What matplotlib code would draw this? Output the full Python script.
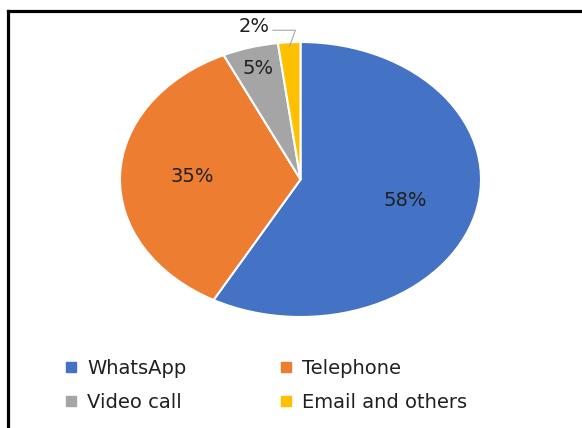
import numpy as np
import matplotlib
matplotlib.use("Agg")
import matplotlib.pyplot as plt
from matplotlib.lines import Line2D

categories = ["WhatsApp", "Telephone", "Video call", "Email and others"]
values = [58, 35, 5, 2]
colors = ["#4472C4", "#ED7D31", "#A5A5A5", "#FFC000"]
label_dist = [0.6, 0.6, 0.84, None]

W, H = 582, 428
fig = plt.figure(figsize=(W / 100, H / 100), dpi=100)
plt.rcParams['font.family'] = ['DejaVu Sans']

# pie axes (ellipse, stretched like the reference)
l, r, t, b = 120, 481, 42, 317
ax = fig.add_axes([l / W, 1 - b / H, (r - l) / W, (b - t) / H])
wedges, _ = ax.pie(values, colors=colors, startangle=90, counterclock=False,
                   wedgeprops=dict(edgecolor="white", linewidth=1.5))
ax.set_aspect("auto")
ax.set_xlim(-1, 1)
ax.set_ylim(-1, 1)
ax.axis("off")

txtcol = "#202020"
for w, v, d in zip(wedges, values, label_dist):
    mid = np.deg2rad((w.theta1 + w.theta2) / 2)
    if d is not None:
        ax.text(d * np.cos(mid), d * np.sin(mid), f"{v}%", ha="center", va="center",
                fontsize=14, color=txtcol)
    else:
        ax.annotate(f"{v}%", xy=(0.97 * np.cos(mid), 0.97 * np.sin(mid)),
                    xytext=(-0.255, 1.113), ha="center", va="center",
                    fontsize=14, color=txtcol, annotation_clip=False,
                    arrowprops=dict(arrowstyle="-", color="#A6A6A6", lw=0.8,
                                    shrinkA=0, shrinkB=0,
                                    connectionstyle="angle,angleA=0,angleB=70,rad=0",
                                    relpos=(1.0, 0.3)))

handles = [Line2D([], [], marker="s", linestyle="none", markersize=6.5,
                  markerfacecolor=c, markeredgecolor=c) for c in colors]
# row-major order for a 2-column legend
order = [0, 2, 1, 3]
leg = fig.legend([handles[i] for i in order], [categories[i] for i in order],
                 ncol=2, loc="upper left",
                 bbox_to_anchor=(65 / W, 1 - 359 / H), frameon=False,
                 fontsize=14, handlelength=0.6, handletextpad=0.55,
                 columnspacing=4.8, labelspacing=0.75, borderpad=0, borderaxespad=0,
                 labelcolor=txtcol)

# partial frame (top and left edges)
fig.add_artist(Line2D([8 / W, 1.0], [1 - 11 / H, 1 - 11 / H], color="black", lw=2.3,
                      transform=fig.transFigure, solid_capstyle="projecting"))
fig.add_artist(Line2D([8 / W, 8 / W], [0, 1 - 11 / H], color="black", lw=2.3,
                      transform=fig.transFigure, solid_capstyle="projecting"))

fig.savefig("out.png", dpi=100)
